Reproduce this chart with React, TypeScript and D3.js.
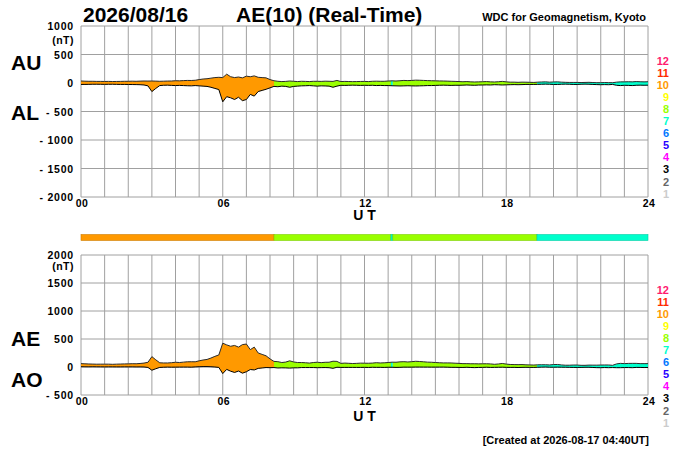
import React from 'react';
import * as d3 from 'd3';

// 10-minute samples, 00:00 .. 24:00 UT (145 values)
const AU: number[] = [
  35, 32, 30, 30, 28, 28,
  27, 28, 26, 27, 28, 30,
  30, 32, 30, 33, 35, 34,
  35, 33, 30, 32, 34, 35,
  40, 38, 42, 45, 44, 48,
  60, 70, 75, 85, 95, 100,
  95, 155, 110, 95, 105, 90,
  120, 110, 125, 100, 95, 90,
  60, 40, 30, 25, 28, 35,
  30, 25, 30, 28, 25, 30,
  30, 28, 32, 30, 28, 45,
  25, 28, 26, 24, 25, 27,
  28, 25, 30, 32, 30, 30,
  35, 38, 35, 40, 45, 42,
  45, 50, 48, 45, 42, 40,
  38, 36, 35, 33, 30, 28,
  25, 22, 25, 20, 18, 20,
  22, 25, 20, 18, 22, 28,
  20, 15, 15, 12, 15, 14,
  12, 10, 15, 18, 20, 15,
  18, 20, 15, 12, 10, 10,
  10, 8, 10, 12, 8, 5,
  5, 8, 6, 5, 15, 20,
  20, 22, 20, 25, 22, 20,
  22,
];
const AL: number[] = [
  -25, -25, -24, -22, -22, -23,
  -24, -23, -22, -24, -25, -25,
  -26, -27, -28, -30, -35, -50,
  -150, -95, -45, -40, -38, -42,
  -45, -42, -45, -48, -50, -45,
  -50, -55, -60, -75, -95, -115,
  -330, -240, -260, -290, -250, -310,
  -290, -200, -230, -150, -130, -110,
  -85, -60, -65, -55, -60, -75,
  -60, -55, -50, -48, -45, -50,
  -55, -50, -52, -55, -75, -55,
  -40, -42, -40, -38, -40, -42,
  -40, -42, -40, -45, -42, -45,
  -45, -48, -50, -52, -50, -48,
  -50, -52, -50, -48, -45, -45,
  -42, -40, -38, -40, -42, -40,
  -40, -38, -35, -38, -40, -36,
  -35, -33, -35, -30, -32, -35,
  -32, -30, -28, -30, -28, -25,
  -25, -25, -24, -22, -20, -22,
  -25, -25, -22, -20, -22, -25,
  -25, -22, -20, -22, -25, -28,
  -30, -28, -30, -25, -40, -45,
  -40, -42, -45, -40, -38, -40,
  -38,
];
const SAMPLES_PER_HOUR = 6;

// Number of stations used, by time segment (hours UT)
const SEG_START = [0, 8.17, 13.12, 13.2, 19.3];
const SEG_END = [8.17, 13.12, 13.2, 19.3, 24];
const SEG_STATIONS = [10, 8, 7, 8, 7];

const LEGEND_COUNTS = [12, 11, 10, 9, 8, 7, 6, 5, 4, 3, 2, 1];
const LEGEND_COLORS = ['#ff1a6e', '#ff2a00', '#ff9900', '#ffff00', '#99ff00', '#00ffcc', '#0077ff', '#2a00ff', '#ff00ff', '#000000', '#666666', '#cccccc'];

const X_TICKS = [0, 6, 12, 18, 24];
const X_TICK_LABELS = ['00', '06', '12', '18', '24'];
const TOP_TICKS = [1000, 500, 0, -500, -1000, -1500, -2000];
const TOP_TICK_LABELS = ['1000', '500', '0', '- 500', '- 1000', '- 1500', '- 2000'];
const BOT_TICKS = [2000, 1500, 1000, 500, 0, -500];
const BOT_TICK_LABELS = ['2000', '1500', '1000', '500', '0', '- 500'];

const FONT = '"Liberation Sans", Arial, Helvetica, sans-serif';

const colorFor = (n: number) => LEGEND_COLORS[LEGEND_COUNTS.indexOf(n)];

const X0 = 81, X1 = 648;
const x = d3.scaleLinear().domain([0, 24]).range([X0, X1]);
const yTop = d3.scaleLinear().domain([-2000, 1000]).range([197, 26]);
const yBot = d3.scaleLinear().domain([-500, 2000]).range([395, 255]);

const hours = AU.map((_, i) => i / SAMPLES_PER_HOUR);
const AE = AU.map((u, i) => u - AL[i]);
const AO = AU.map((u, i) => (u + AL[i]) / 2);

type PanelProps = {
  id: string;
  y: d3.ScaleLinear<number, number>;
  ticks: number[];
  tickLabels: string[];
  upper: number[];
  lower: number[];
  bigTop: string;
  bigBottom: string;
  bigTopY: number;
  bigBottomY: number;
  nTY: number;
  utY: number;
};

function Panel(p: PanelProps) {
  const [yMin, yMax] = p.y.domain();
  const top = p.y(yMax), bottom = p.y(yMin);
  const area = d3.area<number>()
    .x((_, i) => x(hours[i]))
    .y0((_, i) => p.y(p.lower[i]))
    .y1((_, i) => p.y(p.upper[i]));
  const lineU = d3.line<number>().x((_, i) => x(hours[i])).y((d) => p.y(d));
  const areaD = area(p.upper) || '';
  const hourLines = d3.range(0, 25);
  return (
    <g>
      <defs>
        {SEG_START.map((s, k) => (
          <clipPath id={`${p.id}-clip-${k}`} key={k}>
            <rect x={x(s)} y={top} width={x(SEG_END[k]) - x(s)} height={bottom - top} />
          </clipPath>
        ))}
      </defs>
      {hourLines.map((h) => (
        <line key={'v' + h} x1={x(h)} x2={x(h)} y1={top} y2={bottom} stroke="#a0a0a0" strokeWidth={1} />
      ))}
      {p.ticks.map((t) => (
        <line key={'h' + t} x1={X0} x2={X1} y1={p.y(t)} y2={p.y(t)} stroke="#a0a0a0" strokeWidth={1} />
      ))}
      {SEG_START.map((s, k) => (
        <path key={k} d={areaD} fill={colorFor(SEG_STATIONS[k])} clipPath={`url(#${p.id}-clip-${k})`} />
      ))}
      <path d={lineU(p.lower) || ''} fill="none" stroke="#000" strokeWidth={1} />
      <path d={lineU(p.upper) || ''} fill="none" stroke="#2a2a2a" strokeWidth={1} />
      {p.ticks.map((t, i) => (
        <text key={'l' + t} x={74} y={p.y(t) + 4} textAnchor="end" fontSize={10.5} fontWeight="bold" letterSpacing={0.8}>
          {p.tickLabels[i]}
        </text>
      ))}
      <text x={74} y={p.nTY} textAnchor="end" fontSize={10.5} fontWeight="bold" letterSpacing={0.5}>(nT)</text>
      {X_TICKS.map((t, i) => (
        <text key={'x' + t} x={x(t) + 1} y={bottom + 9.5} textAnchor="middle" fontSize={10.5} fontWeight="bold" letterSpacing={0.5}>
          {X_TICK_LABELS[i]}
        </text>
      ))}
      <text x={x(12)} y={p.utY} textAnchor="middle" fontSize={14} fontWeight="bold">U T</text>
      <text x={11} y={p.bigTopY} fontSize={21} fontWeight="bold">{p.bigTop}</text>
      <text x={11} y={p.bigBottomY} fontSize={21} fontWeight="bold">{p.bigBottom}</text>
      {LEGEND_COUNTS.map((n, i) => (
        <text key={'g' + n} x={669} y={top + 39 + i * 12.05} textAnchor="end" fontSize={11} fontWeight="bold" fill={LEGEND_COLORS[i]}>
          {n}
        </text>
      ))}
    </g>
  );
}

export default function App() {
  return (
    <svg width={700} height={450} viewBox="0 0 700 450"
      style={{ position: 'absolute', left: 0, top: 0, background: '#fff' }}
      fontFamily={FONT}>
      <rect x={0} y={0} width={700} height={450} fill="#fff" />
      <text x={83} y={22} fontSize={21} fontWeight="bold">2026/08/16</text>
      <text x={236} y={22} fontSize={21} fontWeight="bold">AE(10) (Real-Time)</text>
      <text x={646} y={21} textAnchor="end" fontSize={11} fontWeight="bold">WDC for Geomagnetism, Kyoto</text>

      <Panel id="top" y={yTop} ticks={TOP_TICKS} tickLabels={TOP_TICK_LABELS}
        upper={AU} lower={AL} bigTop="AU" bigBottom="AL" bigTopY={70} bigBottomY={120} nTY={44} utY={220} />

      {SEG_START.map((s, k) => (
        <rect key={'bar' + k} x={x(s)} y={234.5} width={x(SEG_END[k]) - x(s)} height={6}
          fill={colorFor(SEG_STATIONS[k])}
          stroke={d3.color(colorFor(SEG_STATIONS[k]))!.darker(0.6).toString()} strokeWidth={0.6} />
      ))}

      <Panel id="bot" y={yBot} ticks={BOT_TICKS} tickLabels={BOT_TICK_LABELS}
        upper={AE} lower={AO} bigTop="AE" bigBottom="AO" bigTopY={346} bigBottomY={387} nTY={270} utY={421} />

      <text x={649} y={444} textAnchor="end" fontSize={11} fontWeight="bold">[Created at 2026-08-17 04:40UT]</text>
    </svg>
  );
}
